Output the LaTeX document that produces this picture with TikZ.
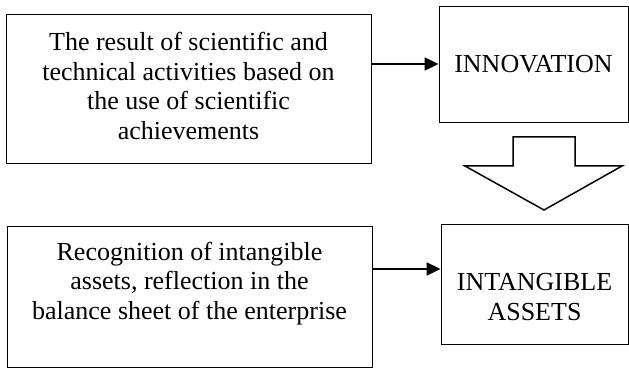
\documentclass[tikz,border=0pt]{standalone}
\usepackage{fontspec}
\setmainfont{Liberation Serif}
\usetikzlibrary{arrows.meta}
\usetikzlibrary{calc}

\begin{document}
\begin{tikzpicture}[x=1pt,y=1pt,
        box/.style={draw=black, line width=0.8pt, inner sep=0pt},
        boxtext/.style={align=center, font=\fontsize{26}{29.5}\selectfont},
        link/.style={-{Triangle[length=14pt,width=13pt]}, line width=1.8pt}]
        \useasboundingbox (0,0) rectangle (629,370);
        % upper row
        \node[box, minimum width=365pt, minimum height=149pt] (result) at (188.5,281.5) {};
        \node[boxtext] (resulttext) at ([yshift=2.5pt]result.center) {The result of scientific and\\technical activities based on\\the use of scientific\\achievements};
        \node[box, boxtext, minimum width=189pt, minimum height=116pt] (innov) at (533.5,306) {INNOVATION};
        \draw[link] (result.east |- innov.west) -- (innov.west);
        % lower row
        \node[box, minimum width=365pt, minimum height=141pt] (recog) at (189.5,73.5) {};
        \node[boxtext] (recogtext) at ([yshift=13pt]recog.center) {Recognition of intangible\\assets, reflection in the\\balance sheet of the enterprise};
        \node[box, minimum width=187pt, minimum height=120pt] (assets) at (534.5,86) {};
        \node[boxtext] (assetstext) at ([yshift=-13pt]assets.center) {INTANGIBLE\\ASSETS};
        \draw[link] ([yshift=15pt]recog.east |- assets.west) -- ([yshift=15pt]assets.west);
        % block arrow
        \draw[black, line width=1.5pt, line join=miter] (513,233) -- (575,233) -- (575,204) -- (622,204)
            -- (544,160) -- (465,204) -- (513,204) -- cycle;
    \end{tikzpicture}
\end{document}
